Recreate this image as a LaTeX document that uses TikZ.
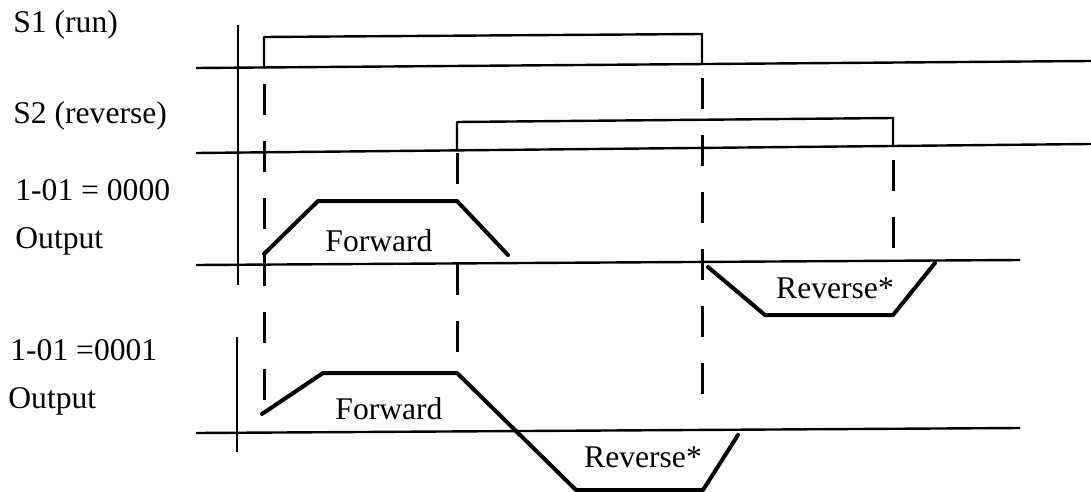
\documentclass[tikz,border=0pt]{standalone}
\usepackage{fontspec}
\setmainfont{Liberation Serif}
\tikzstyle{signame} = [anchor=base west, inner sep=0pt, font=\fontsize{15.8}{19}\selectfont]
\tikzstyle{phase} = [anchor=base, inner sep=0pt, font=\fontsize{15.8}{19}\selectfont]
\tikzstyle{axis} = [line width=1.2pt]
\tikzstyle{pulse} = [line width=1.2pt, line join=round]
\tikzstyle{ramp} = [line width=2pt, line join=round, line cap=round]
\tikzstyle{guide} = [line width=1.5pt, dash pattern=on 15.5pt off 13pt]

\begin{document}
\begin{tikzpicture}[x=0.5pt, y=-0.5pt]
\useasboundingbox (0,0) rectangle (1091,492);

\node (s1) [signame] at (13,33) {S1 (run)};
\node (s2) [signame] at (13,124) {S2 (reverse)};
\node (mode0) [signame] at (15,200) {1-01 = 0000};
\node (out0) [signame] at (15,248) {Output};
\node (mode1) [signame] at (10,360) {1-01 =0001};
\node (out1) [signame] at (8,408) {Output};

\draw [axis] (238,25) -- (238,285);
\draw [axis] (237,337) -- (237,452);

\draw [axis] (196,68) -- (1091,61);
\draw [axis] (196,153) -- (1091,144);
\draw [axis] (196,265) -- (1020,260);
\draw [axis] (196,433) -- (1020,428);

\draw [pulse] (264,68) -- (264,37) -- (702,34) -- (702,63);
\draw [pulse] (457,151) -- (457,122) -- (893,118) -- (893,147);

\draw [guide] (264,84) -- (264,404);
\draw [guide] (457,153) -- (457,201);
\draw [guide] (457,264) -- (457,373);
\draw [guide] (702,78) -- (702,419);
\draw [guide] (893,160) -- (893,250);

\draw [ramp] (264,254) -- (318,201) -- (457,201) -- (508,255);
\draw [ramp] (708,267) -- (765,315) -- (893,315) -- (935,263);
\draw [ramp] (262,414) -- (323,373) -- (457,373) -- (576,490) -- (703,490) -- (738,435);

\node (fwd0) [phase] at (379,251) {Forward};
\node (rev0) [phase] at (835,298) {Reverse*};
\node (fwd1) [phase] at (389,419) {Forward};
\node (rev1) [phase] at (643,467) {Reverse*};
\end{tikzpicture}
\end{document}
